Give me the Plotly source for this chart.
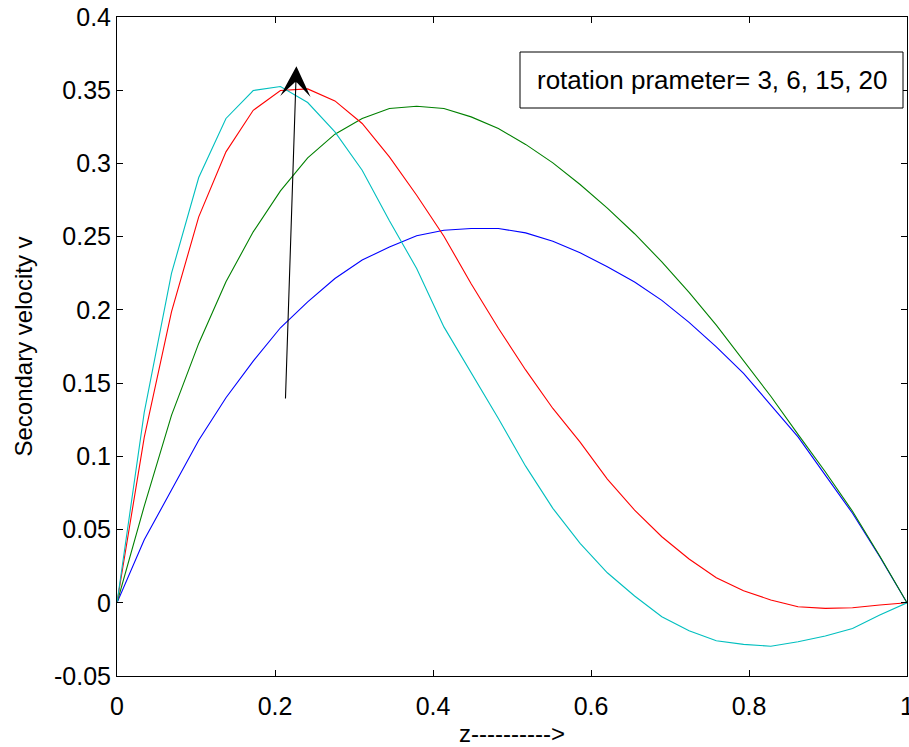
import numpy as np
import plotly.graph_objects as go

# 30 grid points across the channel, z = 0 .. 1
z = np.linspace(0, 1, 30)

v_rot3 = [0, 0.043, 0.077, 0.111, 0.140, 0.165, 0.1878, 0.2055, 0.2214, 0.2340,
          0.2430, 0.2506, 0.2544, 0.2556, 0.2556, 0.2526, 0.2469, 0.2390, 0.2294, 0.2190,
          0.2065, 0.1915, 0.1748, 0.1566, 0.1350, 0.1133, 0.0872, 0.0611, 0.0314, 0]
v_rot6 = [0, 0.066, 0.128, 0.1771, 0.2192, 0.2533, 0.2813, 0.3038, 0.3200, 0.3307,
          0.3375, 0.3391, 0.3375, 0.3318, 0.3238, 0.3130, 0.3004, 0.2856, 0.2695, 0.2520,
          0.2328, 0.2120, 0.1896, 0.1657, 0.1410, 0.1150, 0.0895, 0.0625, 0.0320, 0]
v_rot15 = [0, 0.113, 0.1987, 0.2635, 0.3079, 0.3363, 0.3498, 0.3509, 0.3427, 0.3273,
           0.3045, 0.2783, 0.2503, 0.2179, 0.1875, 0.1590, 0.1327, 0.1097, 0.0845, 0.0633,
           0.0451, 0.0299, 0.0171, 0.0082, 0.0019, -0.0027, -0.0038, -0.0034, -0.0015, 0]
v_rot20 = [0, 0.130, 0.2249, 0.2904, 0.3307, 0.3498, 0.3525, 0.3416, 0.3215, 0.2954,
           0.2608, 0.2283, 0.1884, 0.1574, 0.1258, 0.0933, 0.0645, 0.0406, 0.0205, 0.0046,
           -0.0095, -0.0191, -0.0259, -0.0284, -0.0297, -0.0266, -0.0227, -0.0175, -0.0084, 0]

series_names = ["3", "6", "15", "20"]
series_values = [v_rot3, v_rot6, v_rot15, v_rot20]
series_colors = ["#0000ff", "#008000", "#ff0000", "#00bfbf"]

x_tickvals = [0, 0.2, 0.4, 0.6, 0.8, 1]
x_ticktext = ["0", "0.2", "0.4", "0.6", "0.8", "1"]
y_tickvals = [-0.05, 0, 0.05, 0.1, 0.15, 0.2, 0.25, 0.3, 0.35, 0.4]
y_ticktext = ["-0.05", "0", "0.05", "0.1", "0.15", "0.2", "0.25", "0.3", "0.35", "0.4"]

# arrow indicating increasing rotation parameter (tail -> tip), data coords
arrow_tail = (0.2132, 0.1384)
arrow_tip = (0.2271, 0.3664)

box_text = "rotation prameter= 3, 6, 15, 20"

FONT = "Liberation Sans, Arial, sans-serif"

fig = go.Figure()
for name, vals, col in zip(series_names, series_values, series_colors):
    fig.add_trace(go.Scatter(x=z, y=vals, mode="lines", name=name,
                             line=dict(color=col, width=1.1)))

fig.add_annotation(x=arrow_tip[0], y=arrow_tip[1], ax=arrow_tail[0], ay=arrow_tail[1],
                   xref="x", yref="y", axref="x", ayref="y", text="",
                   showarrow=True, arrowhead=3, arrowsize=4.6, arrowwidth=1.1,
                   arrowcolor="black")

# text box (legend-like)
fig.add_shape(type="rect", xref="paper", yref="paper",
              x0=(520 - 117) / 790, x1=(903 - 117) / 790,
              y0=(676 - 108) / 659, y1=(676 - 52) / 659,
              line=dict(color="black", width=1), fillcolor="white", layer="above")
fig.add_annotation(x=(535 - 117) / 790, y=(676 - 80) / 659, xref="paper", yref="paper",
                   text=box_text, showarrow=False, xanchor="left", yanchor="middle",
                   font=dict(family=FONT, size=26, color="black"))

axis_common = dict(showgrid=False, zeroline=False, showline=True, linecolor="black",
                   linewidth=1, mirror="ticks", ticks="inside", ticklen=6,
                   tickcolor="black", tickwidth=1, ticklabeloverflow="allow",
                   tickfont=dict(family=FONT, size=25, color="black"))

fig.update_xaxes(range=[0, 1], tickvals=x_tickvals, ticktext=x_ticktext,
                 ticklabelstandoff=8,
                 title=dict(text="z---------->", font=dict(family=FONT, size=24, color="black"),
                            standoff=8),
                 **axis_common)
fig.update_yaxes(range=[-0.05, 0.4], tickvals=y_tickvals, ticktext=y_ticktext,
                 title=dict(text="Secondary velocity v", font=dict(family=FONT, size=24, color="black"),
                            standoff=14),
                 **axis_common)

fig.update_layout(width=909, height=747, showlegend=False,
                  margin=dict(l=117, r=2, t=17, b=71, autoexpand=False),
                  plot_bgcolor="white", paper_bgcolor="white")

fig.write_html("out.html")
